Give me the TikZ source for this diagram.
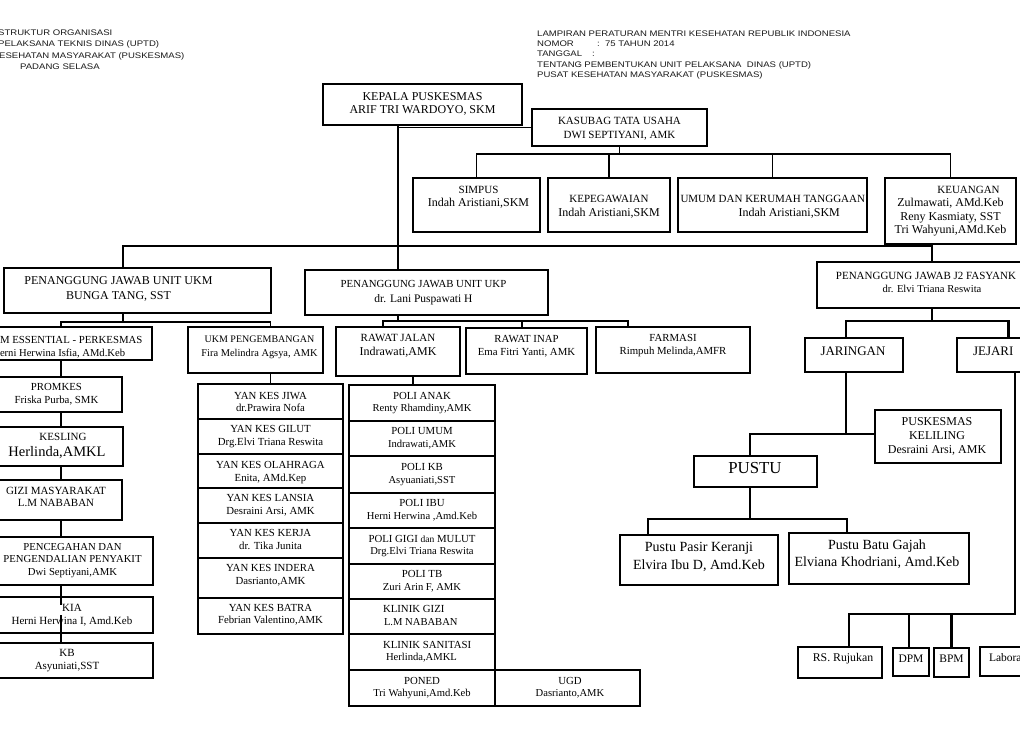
\documentclass[tikz,border=0pt]{standalone}
\usepackage{fontspec}
\setmainfont{Liberation Serif}
\newfontfamily\hdrfont[FakeStretch=1.18]{Liberation Sans}
\newcommand\fz[2]{\fontsize{#1}{#2}\selectfont}
\newcommand\T[3]{\raisebox{\dimexpr#2-2.7pt\relax}[0pt][0pt]{\makebox[0pt]{\kern#1\kern#1\begin{tabular}{@{}c@{}}#3\end{tabular}}}}
\newcommand\TL[3]{\raisebox{\dimexpr#2-2.7pt\relax}[0pt][0pt]{\makebox[0pt][l]{\kern#1\begin{tabular}{@{}l@{}}#3\end{tabular}}}}
\newcommand\B[7][]{\node[bx,#1,minimum width={(#5)-(#3)},minimum height={(#6)-(#4)}] (#2) at ({((#3)+(#5))/2},{((#4)+(#6))/2}) {#7};}
\begin{document}
\begin{tikzpicture}[x=1pt,y=-1pt,
  bx/.style={draw,rectangle,inner sep=0pt,outer sep=0pt,line width=1.5pt},
  bxm/.style={line width=1.9pt},
  bxt/.style={line width=2.7pt},
  cn/.style={line width=1.7pt,line cap=rect},
  cnt/.style={line width=2.6pt,line cap=rect},
  hd/.style={font=\hdrfont\fz{8.1}{10},inner sep=0pt,anchor=base west,text=black!90}]
\useasboundingbox (0,0) rectangle (1020,741);
\fill[white] (0,0) rectangle (1020,741);
\clip (0,0) rectangle (1020,741);

% headers
\node[hd] (hla) at (-2,36) {STRUKTUR ORGANISASI};
\node[hd] (hlb) at (-2,47) {PELAKSANA TEKNIS DINAS (UPTD)};
\node[hd] (hlc) at (-1,59) {ESEHATAN MASYARAKAT (PUSKESMAS)};
\node[hd] (hld) at (20,70) {PADANG SELASA};
\node[hd] (hra) at (537,37) {LAMPIRAN PERATURAN MENTRI KESEHATAN REPUBLIK INDONESIA};
\node[hd] (hrb) at (537,47) {NOMOR};
\node[hd] (hrbb) at (597,47) {:\ \ 75 TAHUN 2014};
\node[hd] (hrc) at (537,57) {TANGGAL};
\node[hd] (hrcc) at (592,57) {:};
\node[hd] (hrd) at (537,68) {TENTANG};
\node[hd] (hrdd) at (578,68) {: PEMBENTUKAN UNIT PELAKSANA\ \ DINAS (UPTD)};
\node[hd] (hre) at (537,78) {PUSAT KESEHATAN MASYARAKAT (PUSKESMAS)};

% top
\B[bxm]{kepala}{323}{84}{522}{125}{\fz{12}{13.5}\T{0pt}{0pt}{KEPALA PUSKESMAS\\ARIF TRI WARDOYO, SKM}}
\B[bxm]{kasubag}{532}{109}{707}{146}{\fz{11}{13.5}\T{0pt}{-1.5pt}{KASUBAG TATA USAHA\\DWI SEPTIYANI, AMK}}
\B[bxm]{simpus}{413}{178}{540}{232}{\fz{12}{12.5}\T{2pt}{7pt}{{\fz{11}{12.5}SIMPUS}\\Indah Aristiani,SKM}}
\B[bxm]{kepeg}{548}{178}{670}{232}{\fz{12}{14}\T{0pt}{-2pt}{{\fz{11}{14}KEPEGAWAIAN}\\Indah Aristiani,SKM}}
\B[bxm]{umum}{678}{178}{867}{232}{\fz{12}{14}\TL{-92pt}{-2pt}{{\fz{11}{14}UMUM DAN KERUMAH TANGGAAN}\\\hspace*{58pt}Indah Aristiani,SKM}}
\B[bxm]{keu}{885}{178}{1016}{244}{\fz{12}{13.5}\T{0pt}{0pt}{{\fz{11}{13.5}\hspace*{36pt}KEUANGAN}\\Zulmawati, AMd.Keb\\Reny Kasmiaty, SST\\Tri Wahyuni,AMd.Keb}}

% PJ
\B[bxt]{ukm}{4}{268}{271}{313}{\fz{12}{14.5}\T{-19pt}{1pt}{PENANGGUNG JAWAB UNIT UKM\\BUNGA TANG, SST}}
\B[bxt]{ukp}{305}{270}{548}{315}{\fz{11.5}{15}\T{-3pt}{0pt}{{\fz{10.8}{15}PENANGGUNG JAWAB UNIT UKP}\\dr. Lani Puspawati H}}
\B[bxt]{jdua}{817}{262}{1047}{308}{\fz{10.6}{13}\T{-6pt}{1.5pt}{{\fz{11}{13}PENANGGUNG JAWAB J2 FASYANK}\\\hspace*{12pt}dr. Elvi Triana Reswita}}

% UKM side
\B[bxt]{ess}{-20}{327}{152}{360}{\fz{10.6}{13}\TL{-66pt}{-4pt}{{\fz{10.8}{13}M ESSENTIAL - PERKESMAS}\\erni Herwina Isfia, AMd.Keb}}
\B[bxt]{peng}{188}{327}{323}{373}{\fz{10.4}{14}\T{4pt}{4pt}{{\fz{10}{14}UKM PENGEMBANGAN}\\Fira Melindra Agsya, AMK}}
\B{promkes}{-5}{377}{122}{412}{\fz{10.8}{13}\T{-2pt}{0pt}{PROMKES\\Friska Purba, SMK}}
\B{kesling}{-5}{427}{123}{466}{\fz{11}{16}\T{-2pt}{1pt}{\hspace*{12pt}KESLING\\{\fz{14.5}{16}Herlinda,AMKL}}}
\B{gizi}{-5}{480}{122}{520}{\fz{11}{12.5}\T{-2.5pt}{2pt}{GIZI MASYARAKAT\\L.M NABABAN}}
\B{penc}{-5}{537}{153}{585}{\fz{10.7}{12.5}\T{-1.5pt}{0.5pt}{PENCEGAHAN DAN\\PENGENDALIAN PENYAKIT\\Dwi Septiyani,AMK}}
\B{kia}{-5}{597}{153}{633}{\fz{11}{13}\T{-2pt}{0pt}{KIA\\Herni Herwina I, Amd.Keb}}
\B{kb}{-5}{643}{153}{678}{\fz{11}{12.5}\T{-7pt}{0pt}{KB\\Asyuniati,SST}}

\B{yana}{198}{384}{343}{419}{\fz{10.8}{12.5}\T{0pt}{-1.5pt}{YAN KES JIWA\\dr.Prawira Nofa}}
\B{yanb}{198}{419}{343}{454}{\fz{10.8}{12.5}\T{0pt}{0pt}{YAN KES GILUT\\Drg.Elvi Triana Reswita}}
\B{yanc}{198}{454}{343}{488}{\fz{10.8}{12.5}\T{0pt}{-1.5pt}{YAN KES OLAHRAGA\\Enita, AMd.Kep}}
\B{yand}{198}{488}{343}{523}{\fz{10.8}{13}\T{0pt}{0pt}{YAN KES LANSIA\\Desraini Arsi, AMK}}
\B{yane}{198}{523}{343}{558}{\fz{10.8}{12.5}\T{0pt}{0pt}{YAN KES KERJA\\dr. Tika Junita}}
\B{yanf}{198}{558}{343}{598}{\fz{10.8}{13}\T{0pt}{2.5pt}{YAN KES INDERA\\Dasrianto,AMK}}
\B{yang}{198}{598}{343}{634}{\fz{10.8}{12.5}\T{0pt}{1pt}{YAN KES BATRA\\Febrian Valentino,AMK}}

% UKP side
\B[bxt]{rj}{336}{327}{460}{376}{\fz{12}{14}\T{0pt}{5.5pt}{{\fz{11}{14}RAWAT JALAN}\\Indrawati,AMK}}
\B[bxt]{ri}{466}{328}{587}{374}{\fz{10.8}{13}\T{0pt}{4.5pt}{RAWAT INAP\\Ema Fitri Yanti, AMK}}
\B[bxt]{farm}{596}{327}{750}{373}{\fz{10.8}{13}\T{0pt}{4.5pt}{FARMASI\\Rimpuh Melinda,AMFR}}

\B{polia}{349}{385}{495}{421}{\fz{10.6}{12.5}\T{0pt}{0pt}{{\fz{10.8}{12.5}POLI ANAK}\\Renty Rhamdiny,AMK}}
\B{polib}{349}{421}{495}{456}{\fz{10.6}{13.5}\T{0pt}{0pt}{{\fz{10.8}{13.5}POLI UMUM}\\Indrawati,AMK}}
\B{polic}{349}{456}{495}{493}{\fz{10.6}{13}\T{0pt}{0pt}{{\fz{10.8}{13}POLI KB}\\Asyuaniati,SST}}
\B{polid}{349}{493}{495}{528}{\fz{10.6}{13.5}\T{0pt}{0pt}{{\fz{10.8}{13.5}POLI IBU}\\Herni Herwina ,Amd.Keb}}
\B{polie}{349}{528}{495}{564}{\fz{10.6}{12.5}\T{0pt}{0pt}{{\fz{10.8}{12.5}POLI GIGI {\fz{9.5}{12}dan} MULUT}\\Drg.Elvi Triana Reswita}}
\B{polif}{349}{564}{495}{599}{\fz{10.6}{13}\T{0pt}{0pt}{{\fz{10.8}{13}POLI TB}\\Zuri Arin F, AMK}}
\B{polig}{349}{599}{495}{634}{\fz{10.6}{13}\TL{-39pt}{0pt}{{\fz{10.8}{13}KLINIK GIZI}\\\hspace*{1pt}L.M NABABAN}}
\B{polih}{349}{634}{495}{670}{\fz{10.6}{12.5}\TL{-39pt}{0pt}{{\fz{10.8}{12.5}KLINIK SANITASI}\\\hspace*{3pt}Herlinda,AMKL}}
\B{polii}{349}{670}{495}{706}{\fz{10.6}{12.5}\T{0pt}{0pt}{{\fz{10.8}{12.5}PONED}\\Tri Wahyuni,Amd.Keb}}
\B{ugd}{495}{670}{640}{706}{\fz{10.6}{12.5}\T{2.5pt}{0pt}{{\fz{10.8}{12.5}UGD}\\Dasrianto,AMK}}

% J2 side
\B[bxt]{jar}{805}{338}{903}{372}{\fz{13}{14}\T{-1pt}{2pt}{JARINGAN}}
\B[bxt]{jej}{957}{338}{1060}{372}{\fz{13}{14}\TL{-35.5pt}{2pt}{JEJARI}}
\B{pk}{875}{410}{1001}{463}{\fz{12}{14}\T{-1pt}{0pt}{PUSKESMAS\\KELILING\\Desraini Arsi, AMK}}
\B{pustu}{694}{456}{817}{487}{\fz{16.8}{18}\T{-0.5pt}{0pt}{PUSTU}}
\B{pp}{620}{535}{778}{585}{\fz{14}{18}\T{0pt}{2pt}{Pustu Pasir Keranji\\Elvira Ibu D, Amd.Keb}}
\B{bg}{789}{533}{969}{584}{\fz{14}{17}\T{-2pt}{3pt}{Pustu Batu Gajah\\Elviana Khodriani, Amd.Keb}}
\B[bxm]{rs}{798}{647}{882}{678}{\fz{11.8}{13}\T{3pt}{3.5pt}{RS. Rujukan}}
\B[bxm]{dpm}{893}{648}{929}{676}{\fz{11.5}{13}\T{0pt}{2pt}{DPM}}
\B[bxm]{bpm}{934}{648}{969}{677}{\fz{11.5}{13}\T{0pt}{2.5pt}{BPM}}
\B[bxm]{lab}{980}{647}{1060}{676}{\fz{11.5}{13}\TL{-31pt}{2.5pt}{Labora}}

% coordinates
\coordinate (kx) at (398,0);
\coordinate (ux) at (123,0);
\coordinate (lx) at (61,0);
\coordinate (rjx) at (383,0);
\coordinate (rix) at (522,0);
\coordinate (fx) at (628,0);
\coordinate (px) at (413,0);
\coordinate (jx) at (846,0);
\coordinate (ptx) at (750,0);
\coordinate (ppx) at (648,0);
\coordinate (bgx) at (847,0);
\coordinate (jjx) at (1015,0);
\coordinate (rsx) at (849,0);
\coordinate (dpmx) at (909,0);
\coordinate (busA) at (0,246);
\coordinate (busB) at (0,154);
\coordinate (busC) at (0,322);
\coordinate (busD) at (0,321);
\coordinate (busE) at (0,321);
\coordinate (busF) at (0,434);
\coordinate (busG) at (0,519);
\coordinate (busH) at (0,614);

% connectors
\draw[cn] (kepala.south -| kx) -- (kx |- ukp.north);
\draw[cn] (kx |- kasubag.west) -- (kasubag.west);
\draw[cn] (kasubag.south) -- (kasubag.south |- busB);
\draw[cn] (simpus.north) |- (keu.north |- busB) -- (keu.north);
\draw[cn] (kepeg.north) -- (kepeg.north |- busB);
\draw[cn] (umum.north) -- (umum.north |- busB);
\draw[cn] (ux |- ukm.north) |- (jdua.north |- busA) -- (jdua.north);

\draw[cn] (ux |- ukm.south) -- (ux |- busC);
\draw[cn] (lx |- ess.north) |- (yana.north |- busC) -- (yana.north |- peng.north);
\draw[cn] (yana.north |- peng.south) -- (yana.north);
\draw[cn] (lx |- ess.south) -- (lx |- promkes.north);
\draw[cn] (lx |- promkes.south) -- (lx |- kesling.north);
\draw[cn] (lx |- kesling.south) -- (lx |- gizi.north);
\draw[cn] (lx |- gizi.south) -- (lx |- penc.north);
\draw[cn] (lx |- penc.south) -- ([yshift=-7pt]lx |- kia.north);
\draw[cn] ([yshift=17pt]lx |- kia.south) -- (lx |- kb.north);

\draw[cn] (kx |- ukp.south) -- (kx |- busD);
\draw[cn] (rjx |- rj.north) |- (fx |- busD) -- (fx |- farm.north);
\draw[cn] (rix |- busD) -- (rix |- ri.north);
\draw[cn] (px |- rj.south) -- (px |- polia.north);

\draw[cnt] (jdua.south) -- (jdua.south |- busE);
\draw[cnt] (jx |- jar.north) |- (jej.north |- busE) -- (jej.north);
\draw[cnt] (jx |- jar.south) -- (jx |- busF);
\draw[cnt] (ptx |- pustu.north) |- (pk.west |- busF);
\draw[cnt] (ptx |- pustu.south) -- (ptx |- busG);
\draw[cnt] (ppx |- pp.north) |- (bgx |- busG) -- (bgx |- bg.north);
\draw[cnt] (jjx |- jej.south) |- (rsx |- busH) -- (rsx |- rs.north);
\draw[cnt] (dpmx |- busH) -- (dpmx |- dpm.north);
\draw[cnt] (bpm.north |- busH) -- (bpm.north);
\end{tikzpicture}
\end{document}
